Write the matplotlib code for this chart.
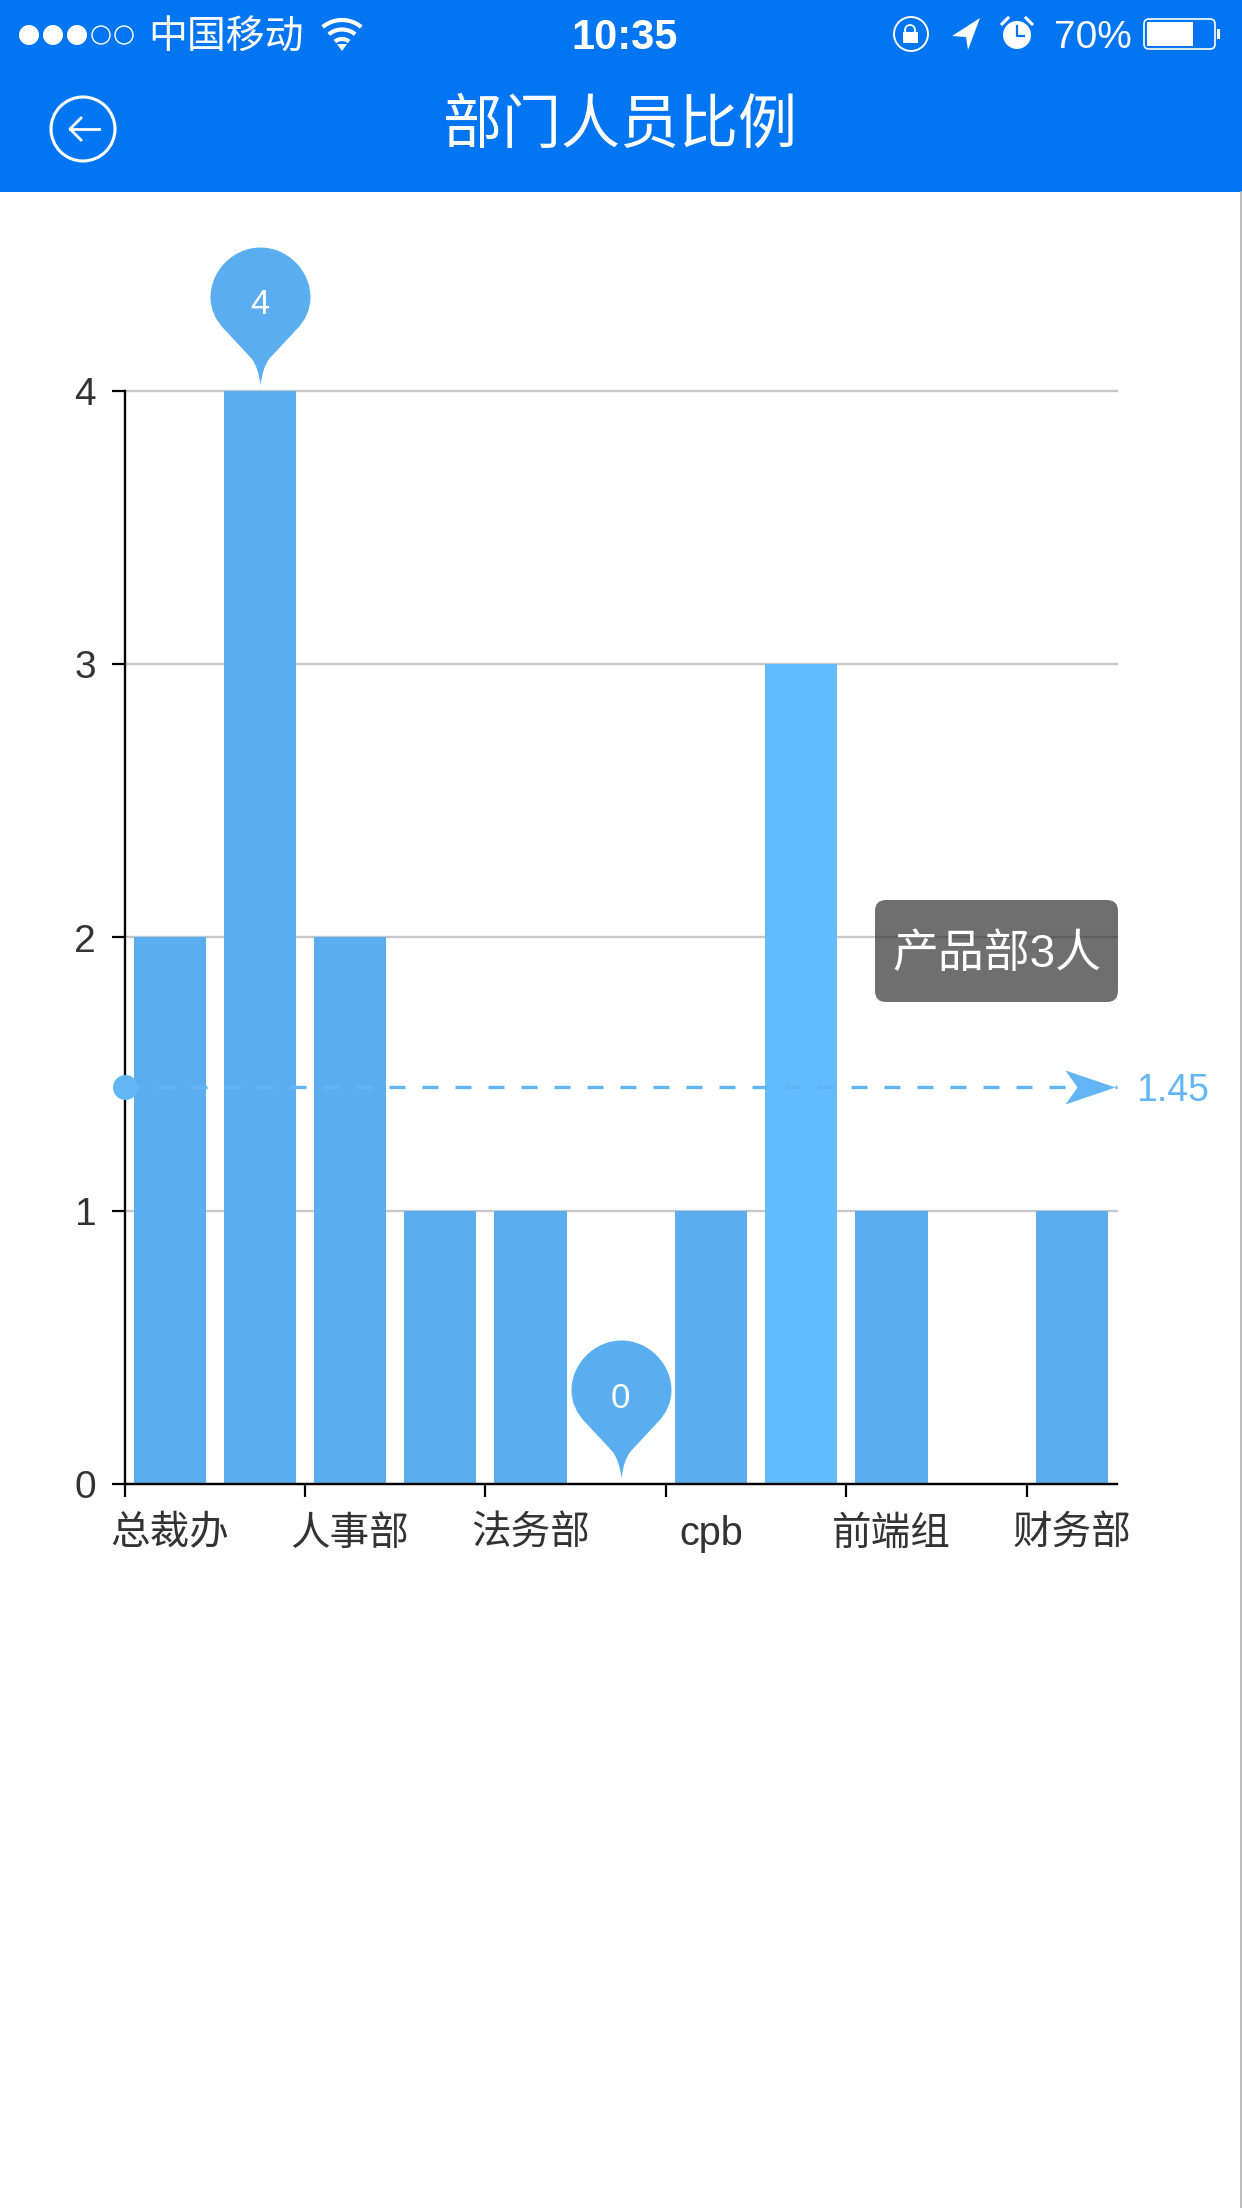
import numpy as np
import matplotlib
matplotlib.use('Agg')
import matplotlib.pyplot as plt
from matplotlib.path import Path
from matplotlib.patches import Rectangle, Circle, FancyBboxPatch, Polygon

# data
categories = ['总裁办', '', '人事部', '', '法务部', '', 'cpb', '产品部', '前端组', '', '财务部']
values = [2, 4, 2, 1, 1, 0, 1, 3, 1, 0, 1]
y_ticks = [0, 1, 2, 3, 4]
highlighted = '产品部'

W, H = 1242, 2208
PX = 0.72  # points per pixel at dpi 100
FONT = ['Liberation Sans', 'Noto Sans CJK SC', 'DejaVu Sans']
plt.rcParams['font.family'] = FONT

BAR = '#5AAEEF'
BAR_HI = '#62BCFF'
MEAN = '#62B6F6'
HEADER = '#0275F2'

fig = plt.figure(figsize=(W / 100, H / 100), dpi=100, facecolor='white')

# plot area in pixels: left 124, right 1118, top 391, bottom 1484
ax = fig.add_axes([124.5 / W, 1 - 1484 / H, 992.5 / W, 1093 / H])
x = np.arange(len(values))
colors = [BAR_HI if c == highlighted else BAR for c in categories]
ax.bar(x, values, width=0.8, color=colors, zorder=2)
ax.set_xlim(-0.5, len(values) - 0.5)
ax.set_ylim(0, max(y_ticks))
ax.set_yticks(y_ticks)
ax.tick_params(axis='y', length=13 * PX, width=1.6, labelsize=28, pad=11, labelcolor='#333333')
ax.yaxis.grid(True, color='#C8C8C8', linewidth=1.7, zorder=1, clip_on=False)
ax.set_axisbelow(True)
ax.spines['top'].set_visible(False)
ax.spines['right'].set_visible(False)
ax.spines['left'].set_linewidth(1.7)
ax.spines['left'].set_zorder(5)
ax.spines['bottom'].set_linewidth(1.7)
ax.spines['bottom'].set_zorder(5)

# ticks sit on the category boundaries, labels under every second category
ax.set_xticks(x[::2] - 0.5)
ax.set_xticklabels([])
ax.tick_params(axis='x', which='major', length=13 * PX, width=1.6)
ax.set_xticks(x[::2], minor=True)
ax.set_xticklabels([categories[i] for i in x[::2]], minor=True, fontsize=28.5, color='#333333')
ax.tick_params(axis='x', which='minor', length=0, pad=22)

# max / min pins, path has its tip 6px above the origin of the marker
pin_verts = [(0, 6), (-2, 24), (-9, 33), (-36, 62), (-50, 76), (-50, 94),
             (-50, 121), (-27, 144), (0, 144), (27, 144), (50, 121), (50, 94),
             (50, 76), (36, 62), (9, 33), (2, 24), (0, 6), (0, 6)]
pin_codes = [Path.MOVETO, Path.CURVE3, Path.CURVE3, Path.LINETO, Path.CURVE3, Path.CURVE3,
             Path.CURVE4, Path.CURVE4, Path.CURVE4, Path.CURVE4, Path.CURVE4, Path.CURVE4,
             Path.CURVE3, Path.CURVE3, Path.LINETO, Path.CURVE3, Path.CURVE3, Path.CLOSEPOLY]
pin = Path(pin_verts, pin_codes)
for i in [int(np.argmax(values)), int(np.argmin(values))]:
    ax.plot([x[i]], [values[i]], marker=pin, markersize=2 * 144 * PX, color=BAR,
            markeredgewidth=0, clip_on=False, zorder=6)
    ax.annotate(str(values[i]), (x[i], values[i]), xytext=(0, 86 * PX), textcoords='offset points',
                ha='center', va='center', color='white', fontsize=25, zorder=7)

# mean line
mean = np.mean(values)
ax.plot(ax.get_xlim(), [mean, mean], color=MEAN, linewidth=2.4, dashes=(16 * PX / 2.4, 17 * PX / 2.4),
        zorder=3, clip_on=False)
ax.plot([ax.get_xlim()[0]], [mean], marker='o', markersize=25 * PX, color=MEAN,
        markeredgewidth=0, clip_on=False, zorder=6)
arrow = Path([(-2, 0), (-52, 17), (-40, 0), (-52, -17), (-2, 0)],
             [Path.MOVETO, Path.LINETO, Path.LINETO, Path.LINETO, Path.CLOSEPOLY])
ax.plot([ax.get_xlim()[1]], [mean], marker=arrow, markersize=104 * PX, color=MEAN,
        markeredgewidth=0, clip_on=False, zorder=6)
ax.annotate(f'{mean:.2f}', (ax.get_xlim()[1], mean), xytext=(19 * PX, -4 * PX), textcoords='offset points',
            ha='left', va='center', color=MEAN, fontsize=27)

# phone chrome, drawn in screen pixels
ov = fig.add_axes([0, 0, 1, 1], zorder=10)
ov.set_xlim(0, W)
ov.set_ylim(H, 0)
ov.axis('off')
ov.patch.set_alpha(0)

ov.add_patch(Rectangle((0, 0), W, 192, color=HEADER, linewidth=0))
ov.plot([W - 1, W - 1], [192, H], color='#B0B0B0', linewidth=1.2)

# signal dots
for i, dx in enumerate([29, 53, 77, 101, 124]):
    if i < 3:
        ov.add_patch(Circle((dx, 35), 10, color='white', linewidth=0))
    else:
        ov.add_patch(Circle((dx, 35), 9, facecolor='none', edgecolor='white', linewidth=1))
ov.text(148, 38, '中国移动', color='white', fontsize=28, va='center', ha='left')

# wifi
t = np.radians(np.linspace(50, 130, 30))
for r in [11, 20.5, 30]:
    ov.plot(342 + r * np.cos(t), 50 - r * np.sin(t), color='white', linewidth=3, solid_capstyle='butt')
ov.add_patch(Polygon([(337, 44), (347, 44), (342, 51)], color='white', linewidth=0))

ov.text(625, 38, '10:35', color='white', fontsize=30, va='center', ha='center', fontweight='bold')

# lock with rotation ring
ov.add_patch(Circle((911, 34), 17, facecolor='none', edgecolor='white', linewidth=1.4))
ov.add_patch(Rectangle((903, 32), 15, 11, color='white', linewidth=0))
ov.add_patch(Circle((910, 30), 5, facecolor='none', edgecolor='white', linewidth=1.3))
# location arrow
ov.add_patch(Polygon([(980, 18), (952, 36), (966, 37), (968, 50)], color='white', linewidth=0))
# alarm clock
ov.add_patch(Circle((1017, 35), 14, color='white', linewidth=0))
ov.plot([1017, 1017, 1024], [26, 36, 36], color=HEADER, linewidth=1.6)
ov.plot([1002, 1008], [24, 18], color='white', linewidth=2.2)
ov.plot([1032, 1026], [24, 18], color='white', linewidth=2.2)
ov.text(1093, 38, '70%', color='white', fontsize=28, va='center', ha='center')
# battery
ov.add_patch(FancyBboxPatch((1144, 19), 71, 30, boxstyle='round,pad=0,rounding_size=5',
                            facecolor='none', edgecolor='white', linewidth=1.2))
ov.add_patch(Rectangle((1147, 22), 46, 24, color='white', linewidth=0))
ov.add_patch(Rectangle((1217, 29), 3, 10, color='white', linewidth=0))

# back button
ov.add_patch(Circle((83, 129), 32, facecolor='none', edgecolor='white', linewidth=2.2))
ov.plot([99, 70], [129, 129], color='white', linewidth=2)
ov.plot([81, 70, 81], [118, 129, 140], color='white', linewidth=2)

ov.text(620, 127, '部门人员比例', color='white', fontsize=42.5, va='center', ha='center', fontweight='light')

# tooltip for the highlighted bar
ov.add_patch(FancyBboxPatch((875, 900), 243, 102, boxstyle='round,pad=0,rounding_size=11',
                            facecolor='#323232', edgecolor='none', alpha=0.7))
ov.text(997, 955, f'{highlighted}{values[categories.index(highlighted)]}人', color='white',
        fontsize=33, va='center', ha='center', fontweight='light')

fig.savefig('out.png', dpi=100)
